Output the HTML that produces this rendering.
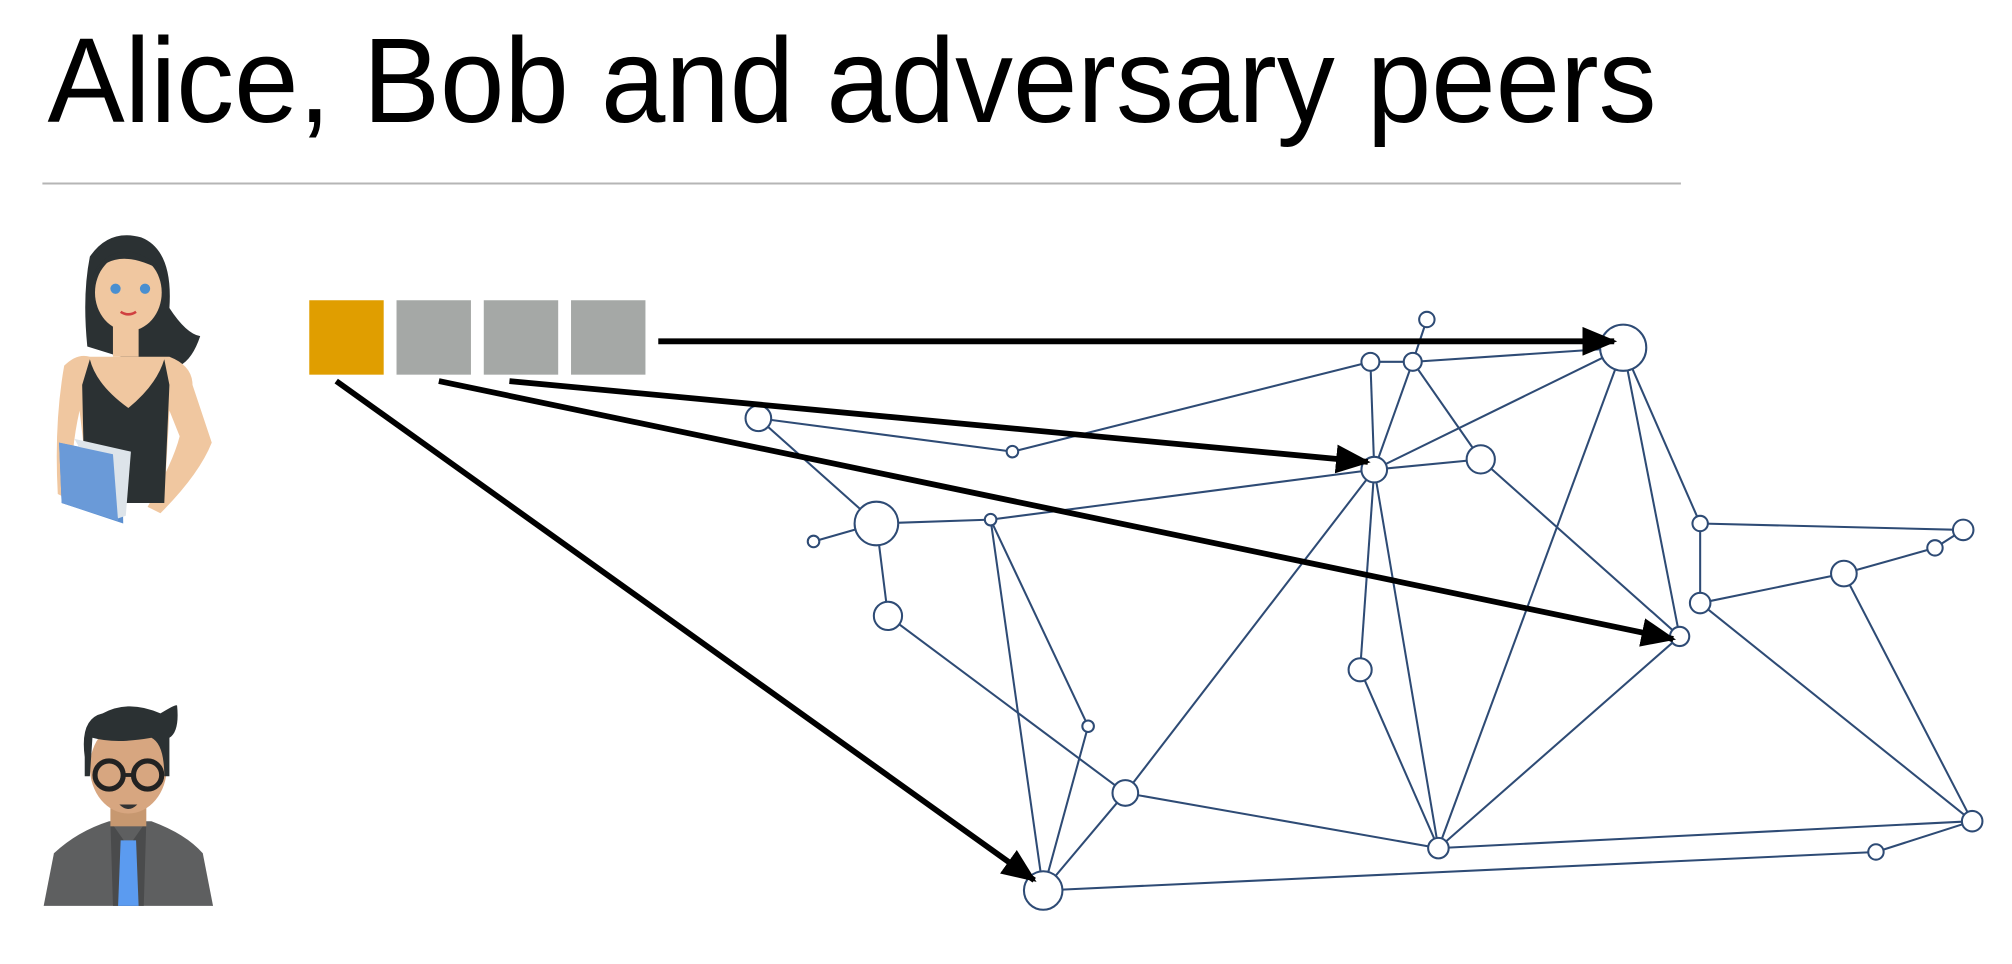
<!DOCTYPE html>
<html><head><meta charset="utf-8"><style>html,body{margin:0;padding:0;background:#fff;}svg{display:block}</style></head>
<body>
<svg width="2012" height="964" viewBox="0 0 1568 751.3" xmlns="http://www.w3.org/2000/svg">
<text x="37" y="95" font-family="Liberation Sans, sans-serif" font-size="94" textLength="1254" lengthAdjust="spacingAndGlyphs" fill="#000">Alice, Bob and adversary peers</text>
<line x1="33" y1="143" x2="1310" y2="143" stroke="#b5b5b5" stroke-width="1.5"/>

<!-- Alice -->
<g>
<path d="M70 200 Q85 178 110 185 Q135 195 132 240 Q145 260 156 262 Q150 280 140 285 L100 280 L68 270 Q64 230 70 200Z" fill="#2b3133"/>
<rect x="88" y="250" width="20" height="28" fill="#f0c7a0"/>
<ellipse cx="100" cy="228" rx="26" ry="30" fill="#f0c7a0"/>
<path d="M72 215 Q90 190 128 212 Q115 198 100 196 Q80 196 72 215Z" fill="#2b3133"/>
<circle cx="90" cy="225" r="4" fill="#4a8fd0"/><circle cx="113" cy="225" r="4" fill="#4a8fd0"/>
<path d="M94 243 Q100 247 106 243" stroke="#d04040" stroke-width="2" fill="none"/>
<path d="M50 285 Q60 275 70 278 L132 278 Q150 285 150 300 L165 345 Q155 370 125 400 L115 395 Q135 360 140 340 L132 320 L128 390 L70 390 L62 320 Q55 350 55 390 L45 385 Q42 330 50 285Z" fill="#f0c7a0"/>
<path d="M70 280 Q75 300 100 318 Q122 300 128 280 L132 300 L128 392 L66 392 L64 300Z" fill="#2b3133"/>
<path d="M46 345 L95 355 L96 408 L48 392Z" fill="#5b8fd0"/>
<path d="M58 342 L102 352 L98 402 L92 404 Z" fill="#dde4ea"/>
<path d="M46 345 L88 354 L92 406 L48 392Z" fill="#6a9ad8"/>
</g>

<!-- Bob -->
<g>
<path d="M34 706 L42 665 Q60 648 85 640 L118 640 Q145 650 158 665 L166 706Z" fill="#5e5f60"/>
<path d="M86 640 L100 660 L114 640 L112 706 L88 706Z" fill="#4a4b4c"/>
<path d="M94 655 L106 655 L108 706 L92 706Z" fill="#5b9bf0"/>
<rect x="86" y="622" width="28" height="22" fill="#c79870"/>
<ellipse cx="100" cy="598" rx="30" ry="36" fill="#d7a680"/>
<path d="M66 590 Q62 560 80 556 Q100 545 125 556 Q138 548 138 550 Q140 570 132 575 L132 605 L128 605 Q128 580 118 575 Q90 580 72 575 L70 605 L66 605Z" fill="#2b3133"/>
<circle cx="85" cy="604" r="11" fill="none" stroke="#222" stroke-width="4"/><circle cx="115" cy="604" r="11" fill="none" stroke="#222" stroke-width="4"/>
<line x1="96" y1="604" x2="104" y2="604" stroke="#222" stroke-width="3"/>
<path d="M93 627 Q100 634 107 627Z" fill="#333"/>
</g>

<!-- boxes -->
<rect x="241" y="234" width="58" height="58" fill="#e09e00"/>
<rect x="309" y="234" width="58" height="58" fill="#a5a8a6"/>
<rect x="377" y="234" width="58" height="58" fill="#a5a8a6"/>
<rect x="445" y="234" width="58" height="58" fill="#a5a8a6"/>

<!-- edges -->
<g stroke="#2e4b75" stroke-width="1.6" fill="none">
<line x1="591" y1="326" x2="789" y2="352"/>
<line x1="789" y1="352" x2="1068" y2="282"/>
<line x1="1068" y1="282" x2="1101" y2="282"/>
<line x1="1101" y1="282" x2="1265" y2="271"/>
<line x1="1101" y1="282" x2="1112" y2="249"/>
<line x1="1068" y1="282" x2="1071" y2="366"/>
<line x1="1101" y1="282" x2="1071" y2="366"/>
<line x1="1101" y1="282" x2="1154" y2="358"/>
<line x1="1071" y1="366" x2="1265" y2="271"/>
<line x1="1071" y1="366" x2="1154" y2="358"/>
<line x1="591" y1="326" x2="683" y2="408"/>
<line x1="683" y1="408" x2="634" y2="422"/>
<line x1="683" y1="408" x2="772" y2="405"/>
<line x1="772" y1="405" x2="1071" y2="366"/>
<line x1="683" y1="408" x2="692" y2="480"/>
<line x1="772" y1="405" x2="848" y2="566"/>
<line x1="772" y1="405" x2="813" y2="694"/>
<line x1="692" y1="480" x2="877" y2="618"/>
<line x1="848" y1="566" x2="813" y2="694"/>
<line x1="877" y1="618" x2="813" y2="694"/>
<line x1="1071" y1="366" x2="877" y2="618"/>
<line x1="1071" y1="366" x2="1060" y2="522"/>
<line x1="1071" y1="366" x2="1121" y2="661"/>
<line x1="1060" y1="522" x2="1121" y2="661"/>
<line x1="1265" y1="271" x2="1121" y2="661"/>
<line x1="1265" y1="271" x2="1309" y2="496"/>
<line x1="1265" y1="271" x2="1325" y2="408"/>
<line x1="1154" y1="358" x2="1309" y2="496"/>
<line x1="1325" y1="408" x2="1325" y2="470"/>
<line x1="1325" y1="408" x2="1530" y2="413"/>
<line x1="1325" y1="470" x2="1437" y2="447"/>
<line x1="1437" y1="447" x2="1508" y2="427"/>
<line x1="1508" y1="427" x2="1530" y2="413"/>
<line x1="1325" y1="470" x2="1537" y2="640"/>
<line x1="1437" y1="447" x2="1537" y2="640"/>
<line x1="1309" y1="496" x2="1121" y2="661"/>
<line x1="877" y1="618" x2="1121" y2="661"/>
<line x1="1121" y1="661" x2="1537" y2="640"/>
<line x1="1537" y1="640" x2="1462" y2="664"/>
<line x1="1462" y1="664" x2="813" y2="694"/>
</g>
<!-- nodes -->
<g stroke="#2e4b75" stroke-width="1.6" fill="#fff">
<circle cx="1265" cy="271" r="18"/><circle cx="1112" cy="249" r="6"/><circle cx="1068" cy="282" r="7"/><circle cx="1101" cy="282" r="7"/>
<circle cx="591" cy="326" r="10"/><circle cx="789" cy="352" r="4.5"/><circle cx="1071" cy="366" r="10"/><circle cx="1154" cy="358" r="11"/>
<circle cx="683" cy="408" r="17"/><circle cx="634" cy="422" r="4.5"/><circle cx="772" cy="405" r="4.5"/><circle cx="692" cy="480" r="11"/>
<circle cx="1325" cy="408" r="6"/><circle cx="1530" cy="413" r="8"/><circle cx="1508" cy="427" r="6"/><circle cx="1437" cy="447" r="10"/>
<circle cx="1325" cy="470" r="8"/><circle cx="1309" cy="496" r="7.5"/><circle cx="1060" cy="522" r="9"/><circle cx="848" cy="566" r="4.5"/>
<circle cx="877" cy="618" r="10"/><circle cx="1121" cy="661" r="8"/><circle cx="1537" cy="640" r="8"/><circle cx="1462" cy="664" r="6"/>
<circle cx="813" cy="694" r="15"/>
</g>

<!-- arrows -->
<defs><marker id="ah" markerWidth="6" markerHeight="5" refX="5.5" refY="2.5" orient="auto" markerUnits="strokeWidth"><path d="M0 0 L6 2.5 L0 5Z" fill="#000"/></marker></defs>
<g stroke="#000" stroke-width="4.5" marker-end="url(#ah)">
<line x1="513" y1="266" x2="1258" y2="266"/>
<line x1="397" y1="297" x2="1066" y2="360"/>
<line x1="342" y1="297" x2="1304" y2="498"/>
<line x1="262" y1="297" x2="806" y2="686"/>
</g>
</svg>
</body></html>
